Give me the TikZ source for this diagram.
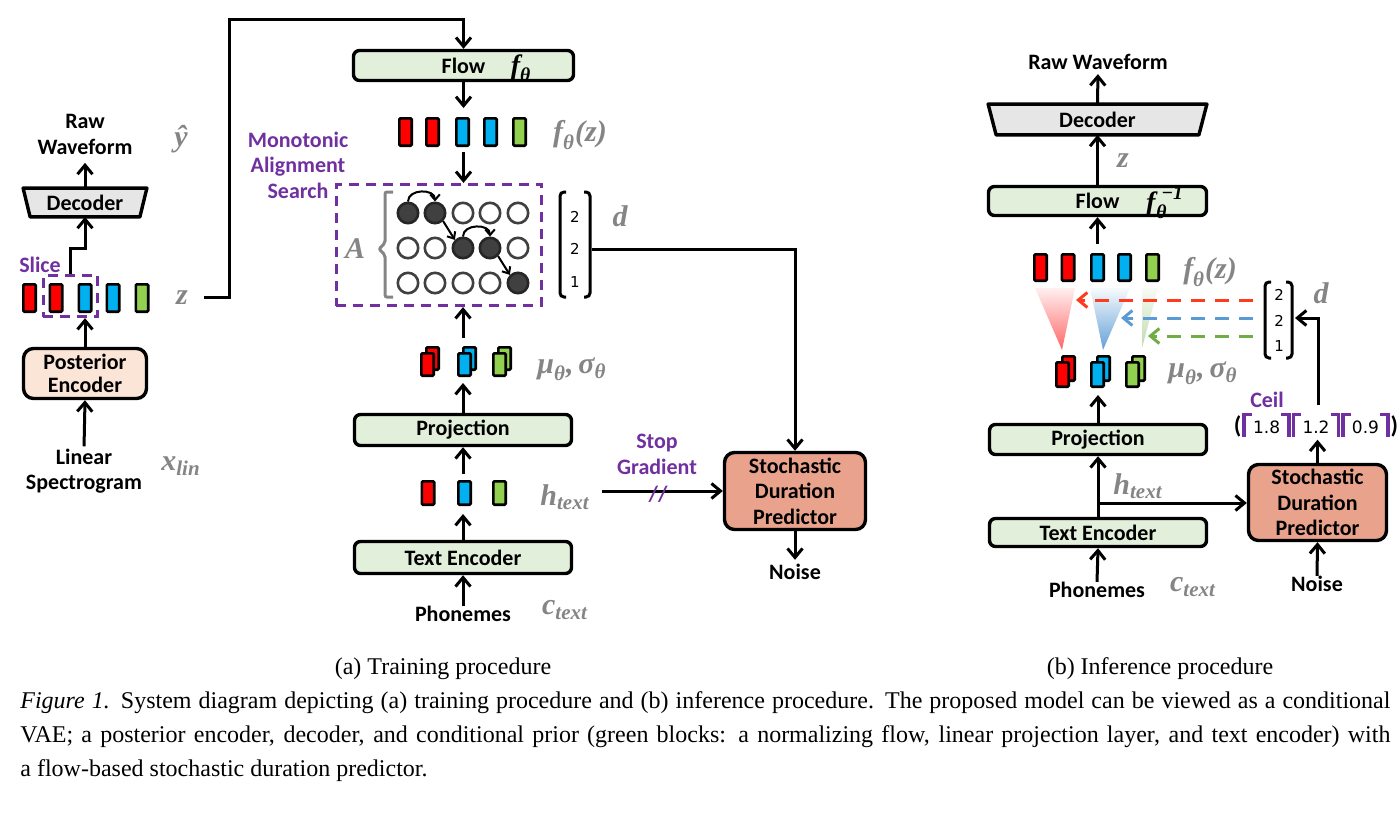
\documentclass[tikz,border=0pt]{standalone}
\usepackage[no-math]{fontspec}
\usepackage{amsmath}
\setmainfont{Carlito}
\newfontfamily\capfont{Liberation Serif}
\newfontfamily\mfnt{Liberation Serif}
\newfontfamily\numfont{DejaVu Sans}
\usetikzlibrary{arrows.meta,calc}
\definecolor{mpurple}{HTML}{7030A0}
\definecolor{mgrey}{HTML}{858585}
\definecolor{bred}{HTML}{FF0000}
\definecolor{bblue}{HTML}{00B0F0}
\definecolor{bgreen}{HTML}{92D050}
\definecolor{gfill}{HTML}{E2EFDA}
\definecolor{pfill}{HTML}{FBE5D6}
\definecolor{dfill}{HTML}{E7E6E6}
\definecolor{sfill}{HTML}{E9A28C}
\definecolor{cdark}{HTML}{404040}
\definecolor{dred}{HTML}{FF3B1F}
\definecolor{dblue}{HTML}{5B9BD5}
\definecolor{dgreen}{HTML}{70AD47}
\newcommand{\lcl}{\textcolor{mpurple}{\rule[-1.5pt]{1.7pt}{12pt}\rule[8.8pt]{3pt}{1.7pt}}\kern0.6pt}
\newcommand{\rcl}{\kern0.6pt\textcolor{mpurple}{\rule[8.8pt]{3pt}{1.7pt}\rule[-1.5pt]{1.7pt}{12pt}}}
\newcommand{\cnum}[1]{{\numfont\mdseries\fontsize{8.5}{9}\selectfont #1}}
\newcommand{\mt}[1]{\text{#1}}
\begin{document}
\begin{tikzpicture}[x=0.5pt,y=-0.5pt,
 lbl/.style={font=\bfseries\fontsize{11}{12.75}\selectfont, align=center, inner sep=0pt},
 mlbl/.style={inner sep=0pt, text=mgrey, font=\mfnt\bfseries\itshape\fontsize{15}{17}\selectfont},
 box/.style={lbl, draw, line width=1.7pt, rounded corners=3pt},
 gbox/.style={box, fill=gfill, minimum width=108.5pt, minimum height=15.5pt},
 sbox/.style={box, fill=sfill, rounded corners=5pt, minimum width=70.5pt, minimum height=38.5pt},
 bar/.style={draw, line width=1.3pt, inner sep=0pt, minimum width=6.2pt, rounded corners=0.6pt},
 arr/.style={line width=1.5pt, -{Straight Barb[length=4.5pt,width=7.5pt]}},
 garr/.style={line width=1pt, -{Straight Barb[length=2.8pt,width=4.8pt]}},
 darr/.style={line width=1.5pt, dash pattern=on 7pt off 5pt, -{Straight Barb[length=4.5pt,width=7.5pt]}},
 ocirc/.style={circle, draw=cdark, fill=white, line width=1.3pt, minimum size=10.2pt, inner sep=0pt},
 fcirc/.style={ocirc, fill=cdark, draw=black!85},
 mdash/.style={draw=mpurple, line width=1.4pt, dash pattern=on 5pt off 3.5pt},
 vnum/.style={inner sep=0pt, font=\numfont\fontsize{7.5}{9}\selectfont},
 brk/.style={line width=1.5pt, rounded corners=2pt},
 captxt/.style={inner sep=0pt, font=\capfont\fontsize{12}{17}\selectfont}
]
\useasboundingbox (0,0) rectangle (1400,813);

%%%%%%%%%%%%%%%% (a) training, left column
\node[lbl] (rawL) at (85,134.5) {Raw\\Waveform};
\node[mlbl] (yhat) at (181,139) {$\mt{ŷ}$};
\node[minimum width=61.5pt, minimum height=14pt, inner sep=0pt] (decL) at (85,202.5) {};
\filldraw[fill=dfill, line width=1.7pt, line join=round] (decL.north west) -- (decL.north east) -- ([xshift=-3.5pt]decL.south east) -- ([xshift=3.5pt]decL.south west) -- cycle;
\node[lbl] at (decL) {Decoder};
\draw[arr, shorten >=4pt] (decL.north) -- (rawL.south);

\foreach \n/\x/\c in {1/29.5/bred,2/56/bred,3/85/bblue,4/113/bblue,5/142/bgreen}
  \node[bar, fill=\c, minimum height=13.7pt] (zb\n) at (\x,298) {};
\node[mdash, minimum width=27.2pt, minimum height=20.7pt, inner sep=0pt] (slice) at (70.5,296) {};
\node[lbl, text=mpurple] (slicel) at (40,265) {Slice};
\coordinate (slb) at (70.5,248);
\draw[arr] (slice.north) -- (slb) -| (decL.south);

\node[box, fill=pfill, rounded corners=5pt, minimum width=61.5pt, minimum height=25pt, font=\bfseries\fontsize{11}{11.5}\selectfont] (post) at (85,373.5) {Posterior\\Encoder};
\draw[arr] (post.north) -- (post.north |- slice.south);
\node[lbl] (lin) at (84,471) {Linear\\Spectrogram};
\draw[arr, shorten <=1pt] (lin.north) -- (post.south);
\node[mlbl] (xlin) at (181,466) {$\mt{x}_{\mt{lin}}$};

\node[mlbl] (zlab) at (182,298) {$\mt{z}$};
\coordinate (zs) at (204,297);
\coordinate (zturn) at (229,20);

%%%%%%%%%%%%%%%% (a) training, middle column
\node[gbox, minimum width=110pt, minimum height=15pt] (tflow) at (463.5,65.5) {Flow};
\node[mlbl, text=black, font=\mfnt\bfseries\itshape\fontsize{14}{16}\selectfont] (tfth) at (521,68) {$\mt{f}_{\mt{θ}}$};
\draw[arr] (zs) -| (zturn) -| (tflow.north);

\foreach \n/\x/\c in {1/405.5/bred,2/432.5/bred,3/462.5/bblue,4/490.5/bblue,5/519.5/bgreen}
  \node[bar, fill=\c, minimum height=13.7pt] (fb\n) at (\x,132) {};
\node[mlbl] (fzl) at (580,135) {$\mt{f}_{\mt{θ}}\mt{(z)}$};
\draw[arr, shorten >=4.5pt] (tflow.south) -- (tflow.south |- fb3.north);

\node[mdash, minimum width=102.7pt, minimum height=60.7pt, inner sep=0pt] (mas) at (439,245) {};
\node[lbl, text=mpurple] (masl) at (298,165) {Monotonic\\Alignment\\Search};
\draw[arr, shorten <=2.5pt] (tflow.south |- fb3.south) -- (tflow.south |- mas.north);
\node[mlbl] (alab) at (355,249) {$\mt{A}$};
\draw[mgrey, line width=1.5pt, rounded corners=1pt] (393,192) -- (385,192) -- (385,243) -- (379,249) -- (385,255) -- (385,297) -- (393,297);

\foreach \r/\c/\s/\x/\y in {1/1/fcirc/408/213,1/2/fcirc/435/213,1/3/ocirc/463/213,1/4/ocirc/490/213,1/5/ocirc/518/213,
  2/1/ocirc/408/248,2/2/ocirc/435/248,2/3/fcirc/463/248,2/4/fcirc/490/248,2/5/ocirc/518/248,
  3/1/ocirc/408/283,3/2/ocirc/435/283,3/3/ocirc/463/283,3/4/ocirc/490/283,3/5/fcirc/518/283}
  \node[\s] (g\r\c) at (\x,\y) {};
\draw[garr] (g11.north) .. controls +(0,-13) and +(0,-13) .. (g12.north);
\draw[garr] (g12.south east) -- (g23.north west);
\draw[garr] (g23.north) .. controls +(0,-13) and +(0,-13) .. (g24.north);
\draw[garr] (g24.south east) -- (g35.north west);

\draw[brk] (566,192) -- (560,192) -- (560,297) -- (566,297);
\draw[brk] (584,192) -- (590,192) -- (590,297) -- (584,297);
\node[vnum] (tv1) at (575,217) {2};
\node[vnum] (tv2) at (575,249) {2};
\node[vnum] (tv3) at (575,282) {1};
\node[mlbl] (tdl) at (620,216) {$\mt{d}$};
\coordinate (tvec) at (592,249);

\foreach \n/\x/\c in {1/427.5/bred,2/464.5/bblue,3/499.5/bgreen}{
  \node[bar, fill=\c, minimum height=11.2pt] (tmb\n) at (\x+5,358.5) {};
  \node[bar, fill=\c, minimum height=11.2pt] (tm\n) at (\x,364.5) {};
}
\node[mlbl] (tmul) at (572,369) {$\mt{μ}_{\mt{θ}}\mt{,\,σ}_{\mt{θ}}$};

\node[gbox] (tproj) at (463,430) {Projection};
\draw[arr, shorten <=4pt] (tproj.north |- tmb2.north) -- (tproj.north |- mas.south);
\draw[arr, shorten >=3pt] (tproj.north) -- (tproj.north |- tm2.south);

\foreach \n/\x/\c in {1/428/bred,2/464.5/bblue,3/499.5/bgreen}
  \node[bar, fill=\c, minimum height=11.7pt] (hb\n) at (\x,493) {};
\node[mlbl] (thl) at (565,497) {$\mt{h}_{\mt{text}}$};
\node[gbox, minimum height=16pt] (tte) at (463,557.5) {Text Encoder};
\draw[arr, shorten <=3pt] (tproj.south |- hb2.north) -- (tproj.south);
\draw[arr, shorten >=4pt] (tte.north) -- (tte.north |- hb2.south);
\node[lbl] (tph) at (463,614) {Phonemes};
\draw[arr] (tph.north) -- (tte.south);
\node[mlbl] (tct) at (565,610) {$\mt{c}_{\mt{text}}$};

\node[sbox] (tsdp) at (795,491) {Stochastic\\Duration\\Predictor};
\draw[arr] (tvec) -| (tsdp.north);
\node[lbl] (tnoise) at (795,572) {Noise};
\draw[arr, shorten >=2pt] (tsdp.south) -- (tnoise.north);
\node[lbl, text=mpurple] (sg) at (657,454.5) {Stop\\Gradient};
\coordinate (hs) at (602,491);
\draw[arr] (hs) -- (tsdp.west);
\node[lbl, text=mpurple] (sgm) at (658,494) {//};

%%%%%%%%%%%%%%%% (b) inference
\node[lbl] (iraw) at (1098,62) {Raw Waveform};
\node[minimum width=109pt, minimum height=15pt, inner sep=0pt] (idec) at (1097.5,119.5) {};
\filldraw[fill=dfill, line width=1.7pt, line join=round] (idec.north west) -- (idec.north east) -- ([xshift=-4pt]idec.south east) -- ([xshift=4pt]idec.south west) -- cycle;
\node[lbl] at (idec) {Decoder};
\draw[arr, shorten >=2pt] (idec.north) -- (iraw.south);

\node[gbox, minimum width=109pt, minimum height=14.5pt] (iflow) at (1097.5,201) {Flow};
\node[mlbl, text=black, font=\mfnt\bfseries\itshape\fontsize{14}{16}\selectfont] (ifinv) at (1165,203) {$\mt{f}^{\kern3pt\mt{−1}}_{\kern0.5pt\mt{θ}}$};
\draw[arr] (iflow.north) -- (idec.south);
\node[mlbl] (iz) at (1123,161) {$\mt{z}$};

\foreach \n/\x/\c in {1/1040.5/bred,2/1068/bred,3/1097.5/bblue,4/1124.5/bblue,5/1152.5/bgreen}
  \node[bar, fill=\c, minimum height=13.2pt] (ib\n) at (\x,267.5) {};
\draw[arr, shorten <=4.5pt] (ib3.north) -- (iflow.south);
\node[mlbl] (ifz) at (1210,272) {$\mt{f}_{\mt{θ}}\mt{(z)}$};

\shade[top color=red!6, bottom color=red!60] (1035,288) -- (1075,288) -- (1062,350) -- cycle;
\shade[top color=dblue!5, bottom color=dblue!95] (1090,288) -- (1130,288) -- (1103,350) -- cycle;
\shade[top color=dgreen!5, bottom color=dgreen!45] (1142,288) -- (1158,288) -- (1142,348) -- cycle;

\draw[brk] (1271,282) -- (1265,282) -- (1265,358) -- (1271,358);
\draw[brk] (1286,282) -- (1292,282) -- (1292,358) -- (1286,358);
\node[vnum] (iv1) at (1279,295) {2};
\node[vnum] (iv2) at (1279,321) {2};
\node[vnum] (iv3) at (1279,346) {1};
\node[mlbl] (idl) at (1321,293) {$\mt{d}$};

\coordinate (dr1) at (1253,300); \coordinate (dr2) at (1076,300);
\coordinate (db1) at (1253,318); \coordinate (db2) at (1121,318);
\coordinate (dg1) at (1253,336); \coordinate (dg2) at (1148,336);
\draw[darr, draw=dred] (dr1) -- (dr2);
\draw[darr, draw=dblue] (db1) -- (db2);
\draw[darr, draw=dgreen] (dg1) -- (dg2);

\foreach \n/\x/\c in {1/1062.5/bred,2/1097.5/bblue,3/1132.5/bgreen}{
  \node[bar, fill=\c, minimum height=12.2pt] (imb\n) at (\x+6,368.5) {};
  \node[bar, fill=\c, minimum height=12.2pt] (im\n) at (\x,374.5) {};
}
\node[mlbl] (imul) at (1203,373) {$\mt{μ}_{\mt{θ}}\mt{,\,σ}_{\mt{θ}}$};

\node[gbox, minimum width=108.5pt, minimum height=15pt] (iproj) at (1098,439.5) {Projection};
\draw[arr, shorten >=3.5pt] (iproj.north) -- (iproj.north |- im2.south);
\node[gbox, minimum width=108.5pt, minimum height=14pt] (ite) at (1098,532.5) {Text Encoder};
\draw[arr] (ite.north) -- (iproj.south);
\node[mlbl] (ihl) at (1138,486) {$\mt{h}_{\mt{text}}$};
\node[lbl] (iph) at (1097,590) {Phonemes};
\draw[arr] (iph.north) -- (ite.south);
\node[mlbl] (ict) at (1193,587) {$\mt{c}_{\mt{text}}$};

\node[sbox, minimum width=69pt, minimum height=38pt] (isdp) at (1317.5,502.5) {Stochastic\\Duration\\Predictor};
\coordinate (ihb) at (1098,503);
\draw[arr] (ihb) -- (ihb -| isdp.west);
\node[lbl] (inoise) at (1317,584) {Noise};
\draw[arr] (inoise.north) -- (isdp.south);

\node[lbl, text=mpurple] (iceil) at (1267,400) {Ceil};
\node[inner sep=0pt, font=\bfseries\fontsize{12}{14}\selectfont] (ceilx) at (1316,425) {(\kern0.5pt\lcl\cnum{1.8}\rcl\kern0.6pt\lcl\cnum{1.2}\rcl\kern0.6pt\lcl\cnum{0.9}\rcl\kern0.5pt)};
\draw[arr, shorten >=1pt] (isdp.north) -- (isdp.north |- ceilx.south);
\coordinate (cb) at (1318,405);
\coordinate (ivr) at (1295,318);
\draw[arr] (cb) |- (ivr);

%%%%%%%%%%%%%%%% captions
\node[captxt] (suba) at (443,669) {(a) Training procedure};
\node[captxt] (subb) at (1160,669) {(b) Inference procedure};
\node[captxt, anchor=north west, align=left] (capt) at (20,691) {\hbox to 685pt{\textit{Figure 1.} System diagram depicting (a) training procedure and (b) inference procedure. The proposed model can be viewed as a conditional}\\\hbox to 685pt{VAE; a posterior encoder, decoder, and conditional prior (green blocks: a normalizing flow, linear projection layer, and text encoder) with}\\a flow-based stochastic duration predictor.};
\end{tikzpicture}
\end{document}
